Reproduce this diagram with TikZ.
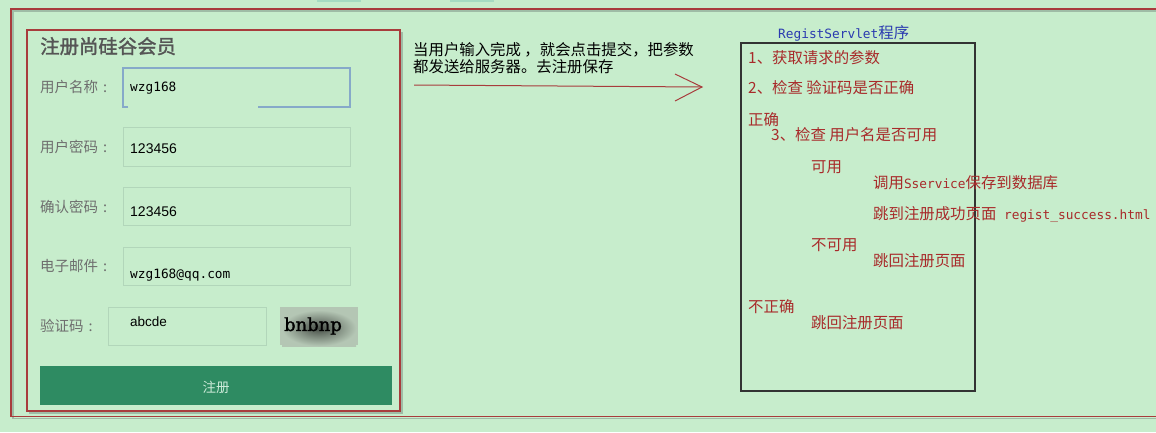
\documentclass[tikz,border=0pt]{standalone}
\usepackage{fontspec}
\setmainfont{Liberation Sans}
\newfontfamily\cjk{Noto Sans CJK SC}
\newfontfamily\cjkb{Noto Sans CJK SC}[FakeBold=1.6]
\newfontfamily\mono{DejaVu Sans Mono}
\newfontfamily\capfont{DejaVu Serif}[FakeBold=1.5]
\definecolor{bg}{HTML}{C7EDCC}
\definecolor{framered}{HTML}{A83C3C}
\definecolor{shadowgray}{HTML}{8FA896}
\definecolor{labelgray}{HTML}{6E6E6E}
\definecolor{titlegray}{HTML}{555555}
\definecolor{fieldborder}{HTML}{B2D6BA}
\definecolor{focusblue}{HTML}{86A9C9}
\definecolor{btngreen}{HTML}{2E8B62}
\definecolor{btntext}{HTML}{CDEBD9}
\definecolor{notered}{HTML}{A82A2A}
\definecolor{noteblue}{HTML}{2A3AB0}
\definecolor{tabgreen}{HTML}{A6DCC2}
\definecolor{capbg}{HTML}{B4C6B4}
\tikzset{
  txt/.style={inner sep=0pt, anchor=west, text height=0.75em, text depth=0.25em, yshift=-3pt},
  formlabel/.style={txt, font=\cjk\fontsize{14.5}{14.5}\selectfont, text=labelgray},
  fieldtext/.style={inner sep=0pt, anchor=west, text height=0.72em, text depth=0pt, font=\fontsize{14}{14}\selectfont, text=black},
  fieldmono/.style={inner sep=0pt, anchor=west, text height=0.6em, text depth=0.1em, font=\mono\fontsize{12.8}{12.8}\selectfont, text=black},
  field/.style={draw=fieldborder, line width=0.9pt},
  note/.style={txt, font=\cjk\fontsize{15.4}{15.4}\selectfont, text=notered},
  frame/.style={draw=framered, line width=1.3pt},
  shadowline/.style={draw=shadowgray, line width=1.6pt, opacity=0.7},
}
\newcommand{\mtt}[1]{{\mono\fontsize{12.8}{12.8}\selectfont #1}}
\newcommand{\lcolon}{\hspace{5pt}:}
\begin{document}
\begin{tikzpicture}[x=1pt,y=-1pt]
\useasboundingbox (0,0) rectangle (1156,432);
\fill[bg] (0,0) rectangle (1156,432);
% top tabs
\fill[tabgreen] (317,0) rectangle (361,1.5);
\fill[tabgreen] (450,0) rectangle (494,1.5);
% outer frame
\draw[shadowline] (1160,11) -- (13,11) -- (13,418.5) -- (1160,418.5);
\draw[frame] (1160,9) -- (11,9) -- (11,416.5) -- (1160,416.5);
% form box
\draw[shadowline] (402,32) -- (402,413) -- (29,413);
\draw[frame] (27,30) rectangle (400,411);
\node[txt, font=\cjkb\fontsize{19.4}{19.4}\selectfont, text=titlegray] (title) at (40,48) {注册尚硅谷会员};
% labels
\node[formlabel] (l1) at (40,87) {用户名称\lcolon};
\node[formlabel] (l2) at (40,147) {用户密码\lcolon};
\node[formlabel] (l3) at (40,207) {确认密码\lcolon};
\node[formlabel] (l4) at (40,266) {电子邮件\lcolon};
\node[formlabel] (l5) at (40,326) {验证码\lcolon};
% fields
\draw[draw=focusblue, line width=1.2pt] (128,107) -- (123,107) -- (123,68) -- (350,68) -- (350,107) -- (258,107);
\draw[field] (123,127) rectangle (350,166);
\draw[field] (123,187) rectangle (350,225);
\draw[field] (123,247) rectangle (350,285);
\draw[field] (108,307) rectangle (266,345);
\node[fieldmono] (v1) at (130,88.5) {wzg168};
\node[fieldtext] (v2) at (130,150) {123456};
\node[fieldtext] (v3) at (130,213) {123456};
\node[fieldmono] (v4) at (130,276) {wzg168@qq.com};
\node[fieldtext, font=\fontsize{13.5}{13.5}\selectfont] (v5) at (130,323) {abcde};
% captcha image
\fill[capbg] (280,307) rectangle (358,345);
\shade[inner color=black!60!capbg, outer color=capbg] (282,310) rectangle (356,346);
\node[inner sep=0pt, font=\capfont\fontsize{18}{18}\selectfont, text=black] (cap) at (313,326) {bnbnp};
% button
\fill[btngreen] (40,366) rectangle (392,405);
\node[inner sep=0pt, font=\cjk\fontsize{13.5}{13.5}\selectfont, text=btntext] (btn) at (216,387) {注册};
% arrow with text
\node[inner sep=0pt, anchor=north west, align=left, font=\cjk\fontsize{15.4}{17}\selectfont, text=black] (atext) at (413,42.5) {当用户输入完成 ，就会点击提交，把参数\\都发送给服务器。去注册保存};
\coordinate (astart) at (414,85);
\coordinate (atip) at (702,87);
\coordinate (aup) at (675,74);
\coordinate (adown) at (675,101);
\draw[draw=framered, line width=1pt] (astart) -- (atip);
\draw[draw=framered, line width=1pt] (aup) -- (atip) -- (adown);
% servlet box
\node[txt, font=\cjk\fontsize{15.4}{15.4}\selectfont, text=noteblue] (stitle) at (778,33) {\mtt{RegistServlet}程序};
\draw[draw=black!80, line width=1.1pt] (741,43) rectangle (975,391);
\node[note] (n1) at (748,58) {1、获取请求的参数};
\node[note] (n2) at (748,88) {2、检查 验证码是否正确};
\node[note] (n3) at (748,120) {正确};
\node[note] (n4) at (771,135) {3、检查 用户名是否可用};
\node[note] (n5) at (811,167) {可用};
\node[note] (n6) at (873,183) {调用\mtt{Sservice}保存到数据库};
\node[note] (n7) at (873,214) {跳到注册成功页面\mtt{ regist\_success.html}};
\node[note] (n8) at (811,245) {不可用};
\node[note] (n9) at (873,261) {跳回注册页面};
\node[note] (n10) at (748,307) {不正确};
\node[note] (n11) at (811,323) {跳回注册页面};
\end{tikzpicture}
\end{document}
